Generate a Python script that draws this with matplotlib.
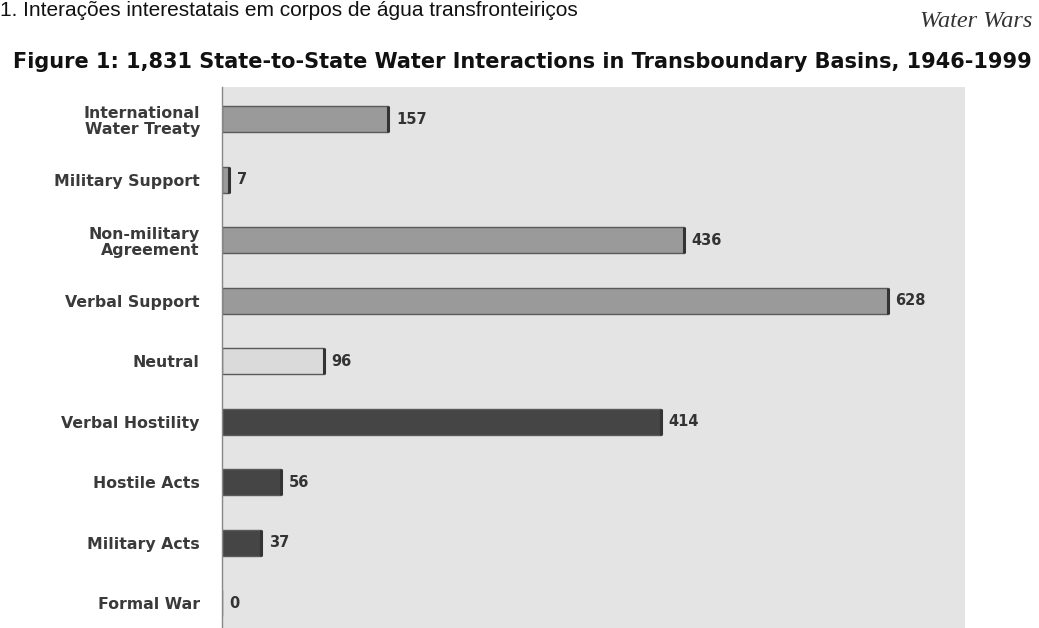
import matplotlib.pyplot as plt

categories = ['International\nWater Treaty', 'Military Support', 'Non-military\nAgreement',
              'Verbal Support', 'Neutral', 'Verbal Hostility', 'Hostile Acts',
              'Military Acts', 'Formal War']
counts = [157, 7, 436, 628, 96, 414, 56, 37, 0]
bar_colors = ['#9a9a9a', '#9a9a9a', '#9a9a9a', '#9a9a9a', '#dadada',
              '#454545', '#454545', '#454545', '#454545']

fig = plt.figure(figsize=(10.39, 6.28), dpi=100)
fig.patch.set_facecolor('white')

ax = fig.add_axes([0.2137, 0.0, 0.7151, 0.8615])
ax.set_facecolor('#e4e4e4')

ypos = list(range(len(categories)))
bar_h = 0.43
ax.barh(ypos, counts, height=bar_h, color=bar_colors, edgecolor='#5a5a5a', linewidth=1.0)
# darker shading on the right end of each bar
ends = [(v, y) for v, y in zip(counts, ypos) if v > 0]
ax.vlines([v for v, _ in ends], [y - bar_h / 2 for _, y in ends],
          [y + bar_h / 2 for _, y in ends], colors='#333333', linewidth=2.2)

for y, v in zip(ypos, counts):
    ax.text(v + 7, y, str(v), va='center', ha='left', fontsize=10.5,
            fontweight='bold', color='#333333')

ax.set_xlim(0, 701)
ax.set_ylim(8.41, -0.53)
ax.set_xticks([])
ax.set_yticks(ypos)
ax.set_yticklabels(categories, fontsize=11.3, fontweight='bold', color='#3a3a3a',
                   linespacing=1.15)
ax.tick_params(axis='y', length=0, pad=16)
for side in ['top', 'right', 'bottom']:
    ax.spines[side].set_visible(False)
ax.spines['left'].set_color('#888888')
ax.spines['left'].set_linewidth(1.0)

fig.text(0.0125, 1 - 68 / 628,
         'Figure 1: 1,831 State-to-State Water Interactions in Transboundary Basins, 1946-1999',
         ha='left', va='baseline', fontsize=15, fontweight='bold', color='#111111')
fig.text(0.994, 1 - 27 / 628, 'Water Wars', ha='right', va='baseline', fontsize=17.5,
         style='italic', family='Liberation Serif', color='#333333')
fig.text(0.0, 1 - 16 / 628, '1. Interações interestatais em corpos de água transfronteiriços',
         ha='left', va='baseline', fontsize=15, family='Liberation Sans', color='#111111')

fig.savefig('out.png', dpi=100)
